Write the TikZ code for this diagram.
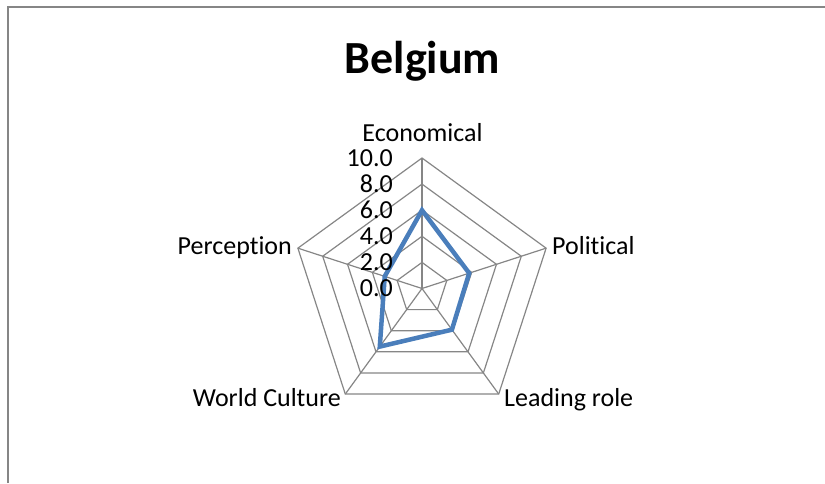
\documentclass[tikz,border=0pt]{standalone}
\usepackage{fontspec}
\setmainfont{Carlito}[Ligatures=NoCommon]
\definecolor{webgray}{RGB}{134,134,134}
\definecolor{seriesblue}{RGB}{74,126,187}

\begin{document}
\begin{tikzpicture}
      [%%%%%%%%%%%%%%%%%%%%%%%%%%%%%%
      x=1pt,y=1pt,
      web/.style={draw=webgray,line width=1.2pt},
      series/.style={draw=seriesblue,line width=4.5pt},
      axislabel/.style={inner sep=0pt,font=\fontsize{26}{30}\selectfont},
      ]%%%%%%%%%%%%%%%%%%%%%%%%%%%%%%

      \useasboundingbox (0,0) rectangle (825,483);
      \draw[webgray,line width=2pt] (8,0) -- (8,476) -- (825,476);

      \node[inner sep=0pt,anchor=base,font=\fontsize{46}{50}\selectfont\bfseries] (title) at (422.5,409.7) {Belgium};

      \begin{scope}[shift={(422,194.5)}]
      % rings at 2,4,...,10
      \foreach \r in {26.1,52.2,78.3,104.4,130.5}
        \draw[web] (90:\r) -- (18:\r) -- (-54:\r) -- (-126:\r) -- (162:\r) -- cycle;
      \foreach \a in {90,18,-54,-126,162}
        \draw[web] (0,0) -- (\a:130.5);
      % 6.0, 3.8, 3.9, 5.5, 3.0
      \draw[series] (90:78.3) -- (18:49.6) -- (-54:50.9) -- (-126:71.8) -- (162:39.2) -- cycle;
      \end{scope}

      \foreach \v in {0,2,...,10}
        \node[axislabel,anchor=east] (tick\v) at (393,194.5+\v*13.05) {\v.0};

      \node[axislabel,anchor=base] (eco) at (422.5,341.3) {Economical};
      \node[axislabel,anchor=base west] (pol) at (552,229) {Political};
      \node[axislabel,anchor=base west] (lead) at (504,77) {Leading role};
      \node[axislabel,anchor=base east] (wc) at (341,77) {World Culture};
      \node[axislabel,anchor=base east] (perc) at (292,229) {Perception};
    \end{tikzpicture}
\end{document}
